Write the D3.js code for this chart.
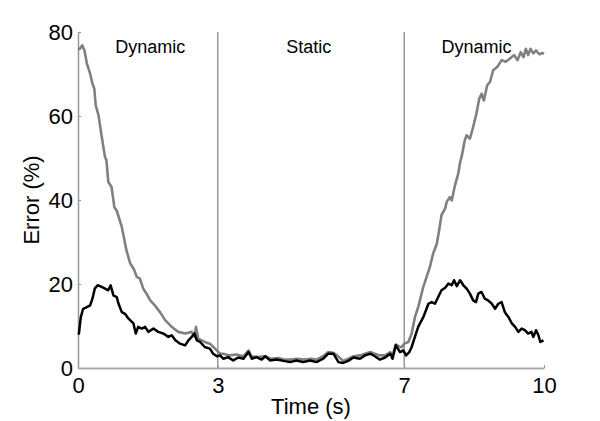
<!DOCTYPE html>
<html>
<head>
<meta charset="utf-8">
<script src="https://cdn.jsdelivr.net/npm/d3@7"></script>
<style>
  body { margin: 0; background: #fff; }
  text { font-family: "Liberation Sans", Arial, Helvetica, sans-serif; fill: #000; }
</style>
</head>
<body>
<div id="chart"></div>
<script>
// x ticks and phase labels
var xTicks = [0, 3, 7, 10];
var yTicks = [0, 20, 40, 60, 80];
var phaseBounds = [3, 7];
var phaseNames = ['Dynamic', 'Static', 'Dynamic'];
var phaseCenters = [1.55, 4.95, 8.55];

// gray series (time in s, error in %)
var grayTime = [0.00,0.04,0.09,0.14,0.19,0.26,0.31,0.35,0.38,0.44,0.51,0.58,0.61,0.65,0.72,0.78,0.83,0.94,1.04,1.12,1.20,1.26,1.33,1.40,1.48,1.55,1.65,1.76,1.87,1.95,2.01,2.15,2.30,2.44,2.50,2.53,2.58,2.72,2.83,2.94,3.05,
  3.12,3.25,3.40,3.55,3.66,3.72,3.85,4.00,4.14,4.30,4.41,4.55,4.70,4.85,5.00,5.12,5.26,5.37,5.48,5.56,5.69,5.80,5.91,6.05,6.16,6.27,6.37,6.48,6.59,6.70,6.75,6.82,6.91,6.95,
  7.00,7.09,7.16,7.23,7.30,7.41,7.48,7.55,7.62,7.70,7.75,7.80,7.88,7.91,7.98,8.02,8.09,8.16,8.20,8.23,8.30,8.34,8.41,8.48,8.55,8.61,8.66,8.71,8.78,8.84,8.91,9.00,9.09,9.18,9.27,9.36,9.43,9.50,9.56,9.61,9.66,9.71,9.77,9.83,9.90,9.97,10.00];
var grayErr = [75.8,76.0,76.8,75.6,72.5,70.1,67.7,66.5,62.5,60.2,55.0,50.2,49.5,44.3,43.1,38.3,37.5,33.6,28.0,24.9,23.5,21.7,21.3,18.9,17.5,16.1,14.9,13.3,11.4,10.5,9.8,8.6,8.2,8.6,7.5,9.8,7.0,6.2,5.8,4.6,3.4,
  3.4,3.0,3.2,2.8,4.2,2.8,2.6,2.8,2.2,2.4,2.0,2.0,2.2,2.0,2.2,2.0,2.8,3.8,3.6,3.0,1.7,2.2,2.8,3.0,3.4,3.8,3.4,3.0,3.0,3.8,3.0,5.6,5.0,5.0,
  5.8,6.2,8.2,12.1,14.5,19.3,21.7,24.0,27.2,29.6,32.8,36.4,38.0,39.5,40.7,39.9,43.5,46.3,49.0,50.2,54.2,55.4,54.6,57.4,60.6,64.1,65.3,63.7,67.3,68.1,70.9,71.7,73.3,72.9,73.7,74.5,73.3,75.2,74.0,76.0,74.5,76.0,74.9,75.6,74.7,75.0,74.8];

// black series (time in s, error in %)
var blackTime = [0.00,0.02,0.06,0.11,0.19,0.26,0.31,0.36,0.42,0.51,0.58,0.65,0.70,0.76,0.83,0.87,0.94,1.01,1.08,1.19,1.24,1.29,1.37,1.44,1.51,1.62,1.72,1.83,1.94,2.01,2.09,2.19,2.30,2.37,2.44,2.50,2.55,2.62,2.72,2.83,2.90,2.98,
  3.05,3.12,3.22,3.33,3.44,3.55,3.66,3.73,3.83,3.94,4.02,4.12,4.26,4.41,4.55,4.69,4.83,4.98,5.12,5.26,5.37,5.48,5.59,5.69,5.80,5.91,6.05,6.16,6.27,6.37,6.48,6.59,6.70,6.75,6.82,6.91,6.98,
  7.04,7.11,7.16,7.23,7.30,7.41,7.52,7.59,7.66,7.73,7.80,7.88,7.95,8.02,8.07,8.13,8.20,8.27,8.34,8.41,8.48,8.54,8.59,8.66,8.73,8.80,8.88,8.95,9.02,9.09,9.16,9.24,9.31,9.38,9.45,9.52,9.59,9.66,9.73,9.77,9.83,9.88,9.92,9.99];
var blackErr = [8.0,8.2,12.1,14.1,14.5,14.9,16.5,18.9,19.7,19.3,18.9,18.5,19.7,17.3,16.9,15.3,13.3,12.9,11.8,10.6,8.2,9.8,9.4,9.8,8.6,9.4,8.6,8.2,7.4,7.8,6.6,5.8,5.4,6.6,7.4,8.2,6.6,6.2,5.0,4.6,3.4,2.8,
  3.0,2.2,2.6,1.8,2.5,2.2,3.8,2.2,2.6,2.0,2.8,1.8,2.0,1.7,1.4,1.8,1.4,1.8,1.4,2.2,3.4,3.4,1.4,1.2,1.7,2.5,2.2,3.0,3.4,2.8,2.0,2.5,3.4,2.2,5.4,3.8,4.2,
  3.0,3.8,5.0,7.4,9.8,12.1,15.3,15.7,15.3,16.9,18.5,19.1,20.1,19.7,20.9,19.5,20.9,19.7,18.9,17.7,16.1,15.7,17.7,18.1,16.5,16.1,15.3,14.1,15.3,15.7,13.3,12.1,10.6,9.8,8.6,9.4,9.0,8.2,8.6,7.4,9.0,7.8,6.2,6.6];

const width = 600;
const height = 421;
const margin = {top: 32, right: 56, bottom: 53, left: 78};
const chartWidth = width - margin.left - margin.right;
const chartHeight = height - margin.top - margin.bottom;

const xScale = d3.scaleLinear().domain([0, 10]).range([0, chartWidth]);
const yScale = d3.scaleLinear().domain([0, 80]).range([chartHeight, 0]);

let svg = d3.select('#chart')
    .append('svg')
        .attr('width', width)
        .attr('height', height);

let g = svg.append('g')
    .attr('transform', `translate(${margin.left}, ${margin.top})`);

// phase separators
g.selectAll('.sep')
    .data(phaseBounds)
    .enter()
    .append('line')
        .attr('x1', (d) => xScale(d))
        .attr('x2', (d) => xScale(d))
        .attr('y1', yScale(0))
        .attr('y2', yScale(80))
        .attr('stroke', '#808080')
        .attr('stroke-width', 1.2);

// phase labels
g.selectAll('.phase')
    .data(phaseNames)
    .enter()
    .append('text')
        .attr('x', (d, i) => xScale(phaseCenters[i]))
        .attr('y', 21)
        .attr('text-anchor', 'middle')
        .style('font-size', '18px')
        .text((d) => d);

// y axis
let yAxis = g.append('g')
    .call(d3.axisLeft(yScale).tickValues(yTicks).tickSizeInner(-3).tickSizeOuter(0).tickPadding(5));
yAxis.select('.domain').attr('stroke', '#999').attr('stroke-width', 1.5);
yAxis.selectAll('.tick line').attr('stroke', '#999');
yAxis.selectAll('.tick text').style('font-size', '22px').attr('font-family', null);

// x axis
let xAxis = g.append('g')
    .attr('transform', `translate(0, ${chartHeight})`)
    .call(d3.axisBottom(xScale).tickValues(xTicks).tickSizeInner(-3).tickSizeOuter(0).tickPadding(9));
xAxis.select('.domain').attr('stroke', '#aaa').attr('stroke-width', 2);
xAxis.selectAll('.tick line').attr('stroke', '#999');
xAxis.selectAll('.tick text').style('font-size', '22px').attr('font-family', null);

// axis titles
svg.append('text')
    .attr('x', margin.left + xScale(5))
    .attr('y', 414)
    .attr('text-anchor', 'middle')
    .style('font-size', '22px')
    .text('Time (s)');

svg.append('text')
    .attr('transform', 'rotate(-90)')
    .attr('x', -(margin.top + yScale(40)))
    .attr('y', 39)
    .attr('text-anchor', 'middle')
    .style('font-size', '22px')
    .text('Error (%)');

// lines
const line = d3.line()
    .x((d) => xScale(d[0]))
    .y((d) => yScale(d[1]));

g.append('path')
    .datum(d3.zip(grayTime, grayErr))
    .attr('fill', 'none')
    .attr('stroke', '#808080')
    .attr('stroke-width', 2.6)
    .attr('stroke-linejoin', 'round')
    .attr('d', line);

g.append('path')
    .datum(d3.zip(blackTime, blackErr))
    .attr('fill', 'none')
    .attr('stroke', '#000')
    .attr('stroke-width', 2.5)
    .attr('stroke-linejoin', 'round')
    .attr('d', line);
</script>
</body>
</html>
